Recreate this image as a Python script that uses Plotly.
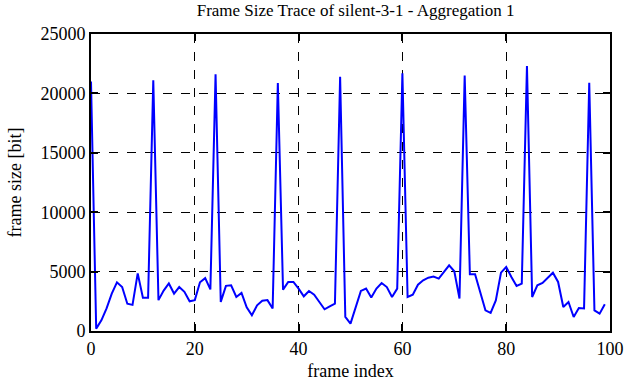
import plotly.graph_objects as go

frame_index = list(range(100))
frame_size = [
    21000, 200, 900, 1900, 3150, 4100, 3700, 2300, 2200, 4850,
    2800, 2800, 21100, 2600, 3400, 4000, 3150, 3700, 3300, 2500,
    2600, 4100, 4450, 3500, 21600, 2450, 3800, 3850, 2860, 3200,
    2000, 1320, 2160, 2550, 2600, 1900, 20880, 3480, 4130, 4130,
    3560, 2920, 3370, 3060, 2440, 1830, 2080, 2300, 21400, 1180,
    620, 2020, 3370, 3570, 2810, 3570, 4040, 3700, 2860, 3570,
    21700, 2860, 3060, 3900, 4270, 4490, 4580, 4410, 4970, 5530,
    5030, 2730, 21500, 4770, 4770, 3150, 1740, 1520, 2580, 4910,
    5390, 4550, 3790, 3990, 22300, 2860, 3850, 4040, 4490, 4910,
    4130, 2020, 2440, 1180, 1940, 1900, 20900, 1740, 1460, 2250,
]
x_ticks = [0, 20, 40, 60, 80, 100]
y_ticks = [0, 5000, 10000, 15000, 20000, 25000]

font = "Liberation Serif"

fig = go.Figure()
fig.add_trace(go.Scatter(
    x=frame_index, y=frame_size, mode="lines",
    line=dict(color="#0000ff", width=2),
    showlegend=False,
))

axis_common = dict(
    showline=True, linecolor="black", linewidth=2, mirror="ticks",
    ticks="inside", ticklen=7, tickwidth=1.5, tickcolor="black",
    showgrid=True, gridcolor="black", griddash="dash", gridwidth=1,
    zeroline=False, automargin=False,
    tickfont=dict(family=font, size=18, color="black"),
)

fig.update_xaxes(
    range=[0, 100], tickvals=x_ticks, ticktext=[str(v) for v in x_ticks],
    title=dict(text="frame index", font=dict(family=font, size=18, color="black"), standoff=7),
    **axis_common,
)
fig.update_yaxes(
    range=[0, 25000], tickvals=y_ticks, ticktext=[str(v) for v in y_ticks],
    title=dict(text="frame size [bit]", font=dict(family=font, size=18, color="black"), standoff=14),
    **axis_common,
)

fig.update_layout(
    width=626, height=382,
    margin=dict(l=91, r=16, t=34, b=51, autoexpand=False),
    paper_bgcolor="white", plot_bgcolor="white",
    title=dict(
        text="Frame Size Trace of silent-3-1 - Aggregation 1",
        font=dict(family=font, size=17, color="black"),
        x=0.568, xanchor="center", yref="container", y=0.99, yanchor="top",
    ),
)

fig.write_html("out.html", config={"displayModeBar": False},
               post_script="document.body.style.margin='0';")
